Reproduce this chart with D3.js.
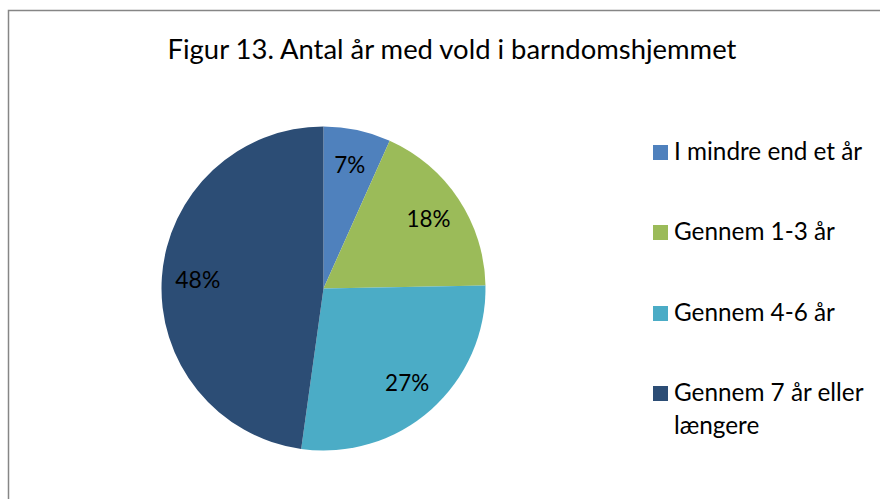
<!DOCTYPE html>
<html>
<head>
<meta charset="utf-8">
<script src="https://cdn.jsdelivr.net/npm/d3@7"></script>
<style>
html,body{margin:0;padding:0;background:#fff;}
svg{display:block;}
text{font-family:Lato,"Open Sans",sans-serif;fill:#000;}
</style>
</head>
<body>
<script>
const title = "Figur 13. Antal år med vold i barndomshjemmet";
const categories = ["I mindre end et år", "Gennem 1-3 år", "Gennem 4-6 år", "Gennem 7 år eller længere"];
const legendLines = [["I mindre end et år"], ["Gennem 1-3 år"], ["Gennem 4-6 år"], ["Gennem 7 år eller", "længere"]];
const values = [6.7, 18.0, 27.5, 47.8];
const labels = ["7%", "18%", "27%", "48%"];
const colors = ["#4f81bd", "#9bbb59", "#4bacc6", "#2c4d75"];

const W = 880, H = 499;
const svg = d3.select("body").append("svg").attr("width", W).attr("height", H);

// chart border
svg.append("rect").attr("x", 8.5).attr("y", 10.5).attr("width", 900).attr("height", 520)
  .attr("fill", "#fff").attr("stroke", "#868686").attr("stroke-width", 1.5);

function fit(sel, target) {
  const w = sel.node().getComputedTextLength();
  const fs = parseFloat(sel.attr("font-size"));
  sel.attr("font-size", fs * target / w);
}

// title
const t = svg.append("text").attr("x", 452).attr("y", 59).attr("text-anchor", "middle")
  .attr("font-size", 24).text(title);
fit(t, 569);

// pie
const cx = 323.5, cy = 288.5, R = 162;
const pie = d3.pie().sort(null).value(d => d);
const arcs = pie(values);
const arc = d3.arc().innerRadius(0).outerRadius(R);
const labelArc = d3.arc().innerRadius(126).outerRadius(126);
const g = svg.append("g").attr("transform", `translate(${cx},${cy})`);
g.selectAll("path").data(arcs).join("path")
  .attr("d", arc).attr("fill", (d, i) => colors[i]);

const lblWidths = [31, 44, 44, 45];
g.selectAll("text.lbl").data(arcs).join("text").attr("class", "lbl")
  .attr("transform", d => `translate(${labelArc.centroid(d)})`)
  .attr("text-anchor", "middle").attr("dy", "0.36em")
  .attr("font-size", 22.5)
  .attr("textLength", (d, i) => lblWidths[i])
  .attr("lengthAdjust", "spacingAndGlyphs")
  .text((d, i) => labels[i]);

// legend
const legY = [145, 225, 306, 386];
const lg = svg.append("g");
categories.forEach((c, i) => {
  lg.append("rect").attr("x", 653).attr("y", legY[i]).attr("width", 15).attr("height", 15)
    .attr("fill", colors[i]);
  legendLines[i].forEach((line, j) => {
    lg.append("text").attr("x", 674).attr("y", legY[i] + 15 + j * 33)
      .attr("font-size", 22).attr("class", "leg").text(line);
  });
});
// scale legend font so "Gennem 1-3 år" spans ~161px
const probe = lg.selectAll("text.leg").filter(function() { return d3.select(this).text() === "Gennem 1-3 år"; });
const pw = probe.node().getComputedTextLength();
const lfs = 22 * 161 / pw;
lg.selectAll("text.leg").attr("font-size", lfs);
</script>
</body>
</html>
